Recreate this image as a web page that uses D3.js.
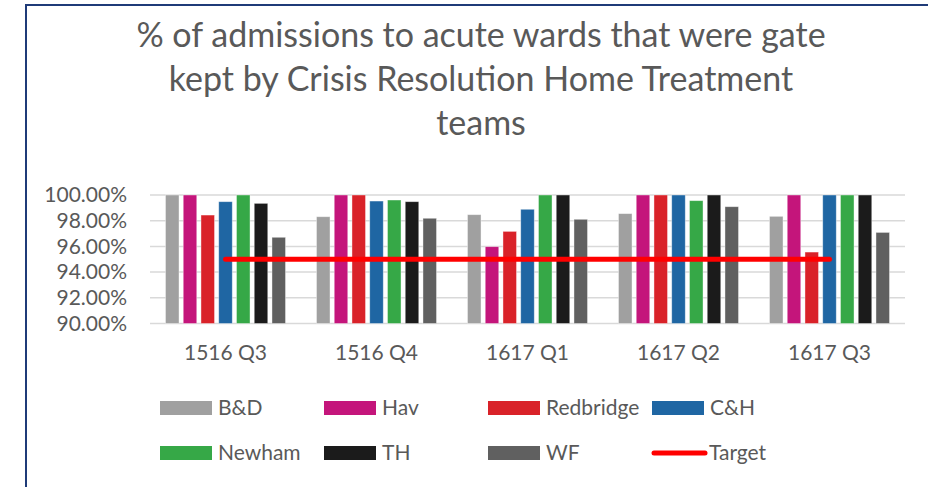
<!DOCTYPE html>
<html>
<head>
<meta charset="utf-8">
<script src="https://cdn.jsdelivr.net/npm/d3@7"></script>
<style>
	body { margin: 0; background: #fff; }
	svg { display: block; font-family: Lato, "Open Sans", sans-serif; }
</style>
</head>
<body>
<svg class="chartSvg"></svg>
<script>
// Data
var categories = ["1516 Q3", "1516 Q4", "1617 Q1", "1617 Q2", "1617 Q3"];
var seriesNames = ["B&D", "Hav", "Redbridge", "C&H", "Newham", "TH", "WF"];
var seriesColors = ["#A0A0A0", "#C4157B", "#D92229", "#1F66A3", "#36A847", "#1B1B1B", "#606060"];
var valuesBD = [1.0000, 0.9831, 0.9847, 0.9855, 0.9834];
var valuesHav = [1.0000, 1.0000, 0.9598, 1.0000, 1.0000];
var valuesRedbridge = [0.9844, 1.0000, 0.9717, 1.0000, 0.9556];
var valuesCH = [0.9948, 0.9953, 0.9889, 1.0000, 1.0000];
var valuesNewham = [1.0000, 0.9961, 1.0000, 0.9956, 1.0000];
var valuesTH = [0.9935, 0.9948, 1.0000, 1.0000, 1.0000];
var valuesWF = [0.9671, 0.9819, 0.9811, 0.9909, 0.9709];
var valuesTarget = [0.95, 0.95, 0.95, 0.95, 0.95];
var yTicks = [0.90, 0.92, 0.94, 0.96, 0.98, 1.00];
var titleLines = ["% of admissions to acute wards that were gate", "kept by Crisis Resolution Home Treatment", "teams"];

var allSeries = [valuesBD, valuesHav, valuesRedbridge, valuesCH, valuesNewham, valuesTH, valuesWF];

var width = 928, height = 487;
var svg = d3.select(".chartSvg").attr("width", width).attr("height", height);
var textColor = "#595959";

// border of the chart box (right/bottom side cropped)
svg.append("path")
	.attr("d", "M26,488 L26,5 L930,5")
	.attr("fill", "none")
	.attr("stroke", "#1F3B78")
	.attr("stroke-width", 2);

// title
svg.append("g").selectAll("text")
	.data(titleLines)
	.enter().append("text")
	.attr("x", 481)
	.attr("y", function(d, i) { return 47 + i * 44; })
	.attr("text-anchor", "middle")
	.attr("fill", textColor)
	.style("font-size", "34px")
	.text(function(d) { return d; });

// scales
var plotLeft = 150, plotRight = 905, plotTop = 195, plotBottom = 323.5;
var x0 = d3.scaleBand().domain(categories).range([plotLeft, plotRight]).paddingInner(0.205).paddingOuter(0.1025);
var x1 = d3.scaleBand().domain(seriesNames).range([0, x0.bandwidth()]).paddingInner(0.237).paddingOuter(0);
var y = d3.scaleLinear().domain([0.9, 1.0]).range([plotBottom, plotTop]);

// gridlines
svg.append("g").selectAll("line")
	.data(yTicks)
	.enter().append("line")
	.attr("x1", plotLeft)
	.attr("x2", plotRight)
	.attr("y1", function(d) { return y(d); })
	.attr("y2", function(d) { return y(d); })
	.attr("stroke", "#D9D9D9")
	.attr("stroke-width", 1.5);

// y axis labels
var yAxis = d3.axisLeft(y).tickValues(yTicks).tickFormat(d3.format(".2%")).tickSize(0).tickPadding(23);
var yAxisG = svg.append("g").attr("transform", "translate(" + plotLeft + ",0)").call(yAxis);
yAxisG.select(".domain").remove();
yAxisG.selectAll("text").attr("fill", textColor).style("font-size", "21px").style("font-family", "Lato, sans-serif");

// x axis labels
var xAxis = d3.axisBottom(x0).tickSize(0).tickPadding(22);
var xAxisG = svg.append("g").attr("transform", "translate(0," + plotBottom + ")").call(xAxis);
xAxisG.select(".domain").remove();
xAxisG.selectAll("text").attr("fill", textColor).style("font-size", "21px").style("font-family", "Lato, sans-serif");

// bars
var groups = svg.append("g").selectAll("g")
	.data(categories)
	.enter().append("g")
	.attr("transform", function(d) { return "translate(" + x0(d) + ",0)"; });
groups.selectAll("rect")
	.data(function(d, ci) { return seriesNames.map(function(s, si) { return {name: s, idx: si, value: allSeries[si][ci]}; }); })
	.enter().append("rect")
	.attr("x", function(d) { return x1(d.name); })
	.attr("width", x1.bandwidth())
	.attr("y", function(d) { return y(d.value); })
	.attr("height", function(d) { return y(0.9) - y(d.value); })
	.attr("fill", function(d) { return seriesColors[d.idx]; })
	.attr("stroke", "#ffffff")
	.attr("stroke-opacity", 0.5)
	.attr("stroke-width", 0.8);

// target line
var line = d3.line()
	.x(function(d, i) { return x0(categories[i]) + x0.bandwidth() / 2; })
	.y(function(d) { return y(d); });
svg.append("path")
	.datum(valuesTarget)
	.attr("d", line)
	.attr("fill", "none")
	.attr("stroke", "#FF0000")
	.attr("stroke-width", 5)
	.attr("stroke-linecap", "round");

// legend
var legendItems = seriesNames.concat(["Target"]);
var legend = svg.append("g").selectAll("g")
	.data(legendItems)
	.enter().append("g")
	.attr("transform", function(d, i) { return "translate(" + (160 + (i % 4) * 164) + "," + (408 + Math.floor(i / 4) * 45) + ")"; });
legend.each(function(d, i) {
	var g = d3.select(this);
	if (d === "Target") {
		g.append("line")
			.attr("x1", 2).attr("x2", 53)
			.attr("y1", 0).attr("y2", 0)
			.attr("stroke", "#FF0000")
			.attr("stroke-width", 5)
			.attr("stroke-linecap", "round");
	} else {
		g.append("rect")
			.attr("x", 0).attr("y", -7)
			.attr("width", 52).attr("height", 14)
			.attr("fill", seriesColors[i]);
	}
	g.append("text")
		.attr("x", d === "Target" ? 57 : 58)
		.attr("y", 0)
		.attr("dy", "0.35em")
		.attr("fill", textColor)
		.style("font-size", "21px")
		.text(d);
});
</script>
</body>
</html>
